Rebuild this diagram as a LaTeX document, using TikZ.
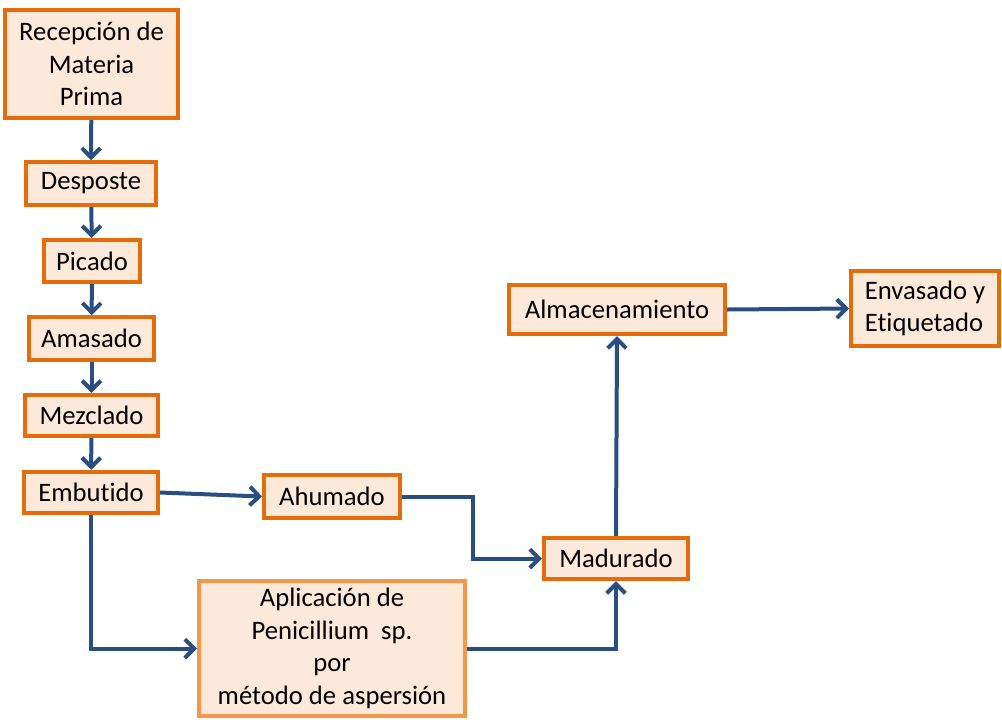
\documentclass[tikz,border=0pt]{standalone}
\usepackage{fontspec}
\setmainfont{Carlito}[Ligatures=NoCommon]
\usetikzlibrary{arrows.meta}
\definecolor{naranja}{HTML}{E46C0A}
\definecolor{naranjaclaro}{HTML}{F79646}
\definecolor{crema}{HTML}{FDE9D9}
\definecolor{azul}{RGB}{40,78,130}
\tikzset{
  caja/.style={draw=naranja,fill=crema,line width=3pt,inner sep=0pt,minimum height=32pt,
    align=center,font=\fontsize{20}{24.5}\selectfont},
  flecha/.style={->,draw=azul,line width=3pt}
}
\begin{document}
\begin{tikzpicture}[>={Straight Barb[length=7pt,width=14pt]},x=0.75pt,y=-0.75pt]
		\useasboundingbox (0,0) rectangle (1002,719);
		\node[caja,minimum width=130pt,minimum height=81pt] (recepcion) at (91.5,64) {Recepción de\\Materia\\Prima};
		\node[caja,minimum width=97.5pt] (desposte) at (91,183.5) {Desposte};
		\node[caja,minimum width=72pt,minimum height=31.5pt] (picado) at (92,261) {Picado};
		\node[caja,minimum width=94pt] (amasado) at (91.5,338.5) {Amasado};
		\node[caja,minimum width=100pt,minimum height=31pt] (mezclado) at (91.5,415.5) {Mezclado};
		\node[caja,minimum width=100.5pt,minimum height=31pt] (embutido) at (91,492.5) {Embutido};
		\node[caja,minimum width=102pt] (ahumado) at (332,496.5) {Ahumado};
		\node[caja,draw=naranjaclaro,minimum width=199.5pt,minimum height=101pt] (aplicacion) at (332,648.5)
			{Aplicación de\\Penicillium~ sp.\\por\\método de aspersión};
		\node[caja,minimum width=108pt,minimum height=31pt] (madurado) at (616,558.5) {Madurado};
		\node[caja,minimum width=162pt,minimum height=37pt] (almacen) at (617,309.5) {Almacenamiento};
		\node[caja,align=left,minimum width=111pt,minimum height=56pt] (envasado) at (925,308.5) {Envasado y\\Etiquetado};
		%flechas
		\draw[flecha](recepcion)--(desposte);
		\draw[flecha](desposte)--(picado);
		\draw[flecha](picado)--(amasado);
		\draw[flecha](amasado)--(mezclado);
		\draw[flecha](mezclado)--(embutido);
		\draw[flecha](embutido.east)--(ahumado.west);
		\draw[flecha](ahumado.east)--++(71,0)|-(madurado.west);
		\draw[flecha](embutido.south)|-(aplicacion.west);
		\draw[flecha](aplicacion.east)-|(madurado.south);
		\draw[flecha](madurado.north)--(almacen.south);
		\draw[flecha](almacen.east)--(envasado.west);
	\end{tikzpicture}
\end{document}
